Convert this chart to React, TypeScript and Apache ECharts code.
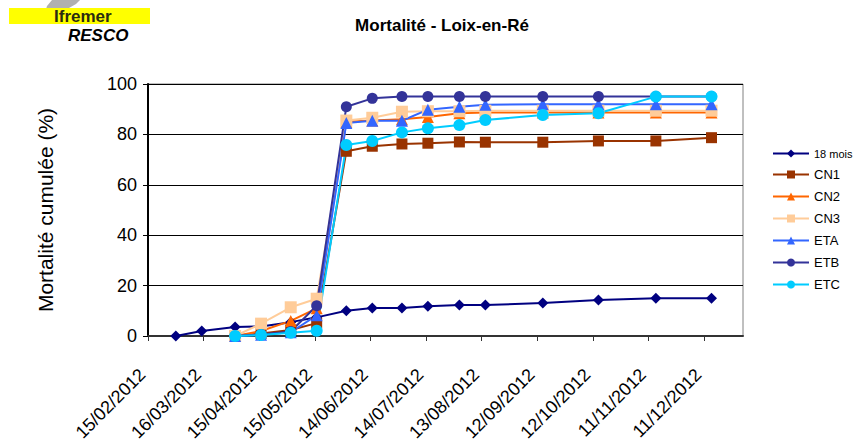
import React, { useEffect, useRef } from "react";
import * as echarts from "echarts";

// ---- data ----
const sampleDates = [
  "2012-03-01", "2012-03-15", "2012-04-02", "2012-04-16", "2012-05-02", "2012-05-16",
  "2012-06-01", "2012-06-15", "2012-07-01", "2012-07-15", "2012-08-01", "2012-08-15",
  "2012-09-15", "2012-10-15", "2012-11-15", "2012-12-15",
];
const seriesNames = ["18 mois", "CN1", "CN2", "CN3", "ETA", "ETB", "ETC"];
const v18mois = [0, 2, 3.6, 3.8, 5.5, 7.4, 10, 11.1, 11.1, 11.8, 12.3, 12.3, 13.1, 14.3, 15, 15];
const vCN1 = [null, null, 0, 1, 2.4, 5.1, 73.3, 75.3, 76.2, 76.5, 77, 76.9, 76.9, 77.4, 77.4, 78.7];
const vCN2 = [null, null, 0, 2, 6, 11, 85, 85.5, 86, 86.9, 88.4, 88.7, 88.7, 88.7, 88.7, 88.7];
const vCN3 = [null, null, 0, 4.9, 11.4, 14.8, 85.5, 86.6, 89, 89.2, 89.2, 89.4, 89.4, 89.4, 89.4, 89.4];
const vETA = [null, null, 0, 0.5, 1.5, 8.2, 84.5, 85.4, 85.4, 89.8, 91, 91.8, 92, 92, 92, 92];
const vETB = [null, null, 0, 0.6, 1.8, 12, 91, 94.3, 95, 95, 95, 95, 95, 95, 95, 95];
const vETC = [null, null, 0, 0.4, 1.3, 2.1, 75.8, 77.4, 80.8, 82.4, 83.7, 85.7, 87.7, 88.4, 95, 95];
const seriesValues = [v18mois, vCN1, vCN2, vCN3, vETA, vETB, vETC];
const seriesColors = ["#000080", "#993300", "#FF6600", "#FFCC99", "#3366FF", "#333399", "#00CCFF"];
const seriesSymbols = ["diamond", "rect", "triangle", "rect", "triangle", "circle", "circle"];
const seriesSymbolSizes = [11, 11, 12, 12, 12, 11, 12];
const axisStartDate = "2012-02-15";
const axisEndDate = "2013-01-01";
const tickDays = 30;
const yTicks = [0, 20, 40, 60, 80, 100];

const FONT = "'Liberation Sans', Arial, Helvetica, sans-serif";
const DAY = 86400000;
const t0 = Date.parse(axisStartDate + "T00:00:00Z");
const dayOf = (s: string) => Math.round((Date.parse(s + "T00:00:00Z") - t0) / DAY);
const pad = (n: number) => (n < 10 ? "0" + n : "" + n);
const fmtDay = (v: number) => {
  const d = new Date(t0 + v * DAY);
  return pad(d.getUTCDate()) + "/" + pad(d.getUTCMonth() + 1) + "/" + d.getUTCFullYear();
};

export default function App() {
  const ref = useRef<HTMLDivElement>(null);
  useEffect(() => {
    if (!ref.current) return;
    const chart = echarts.init(ref.current, undefined, { renderer: "svg" });
    const xMax = dayOf(axisEndDate);
    const series = seriesNames.map((name, i) => ({
      name,
      type: "line",
      data: sampleDates
        .map((d, j) => [dayOf(d), seriesValues[i][j]])
        .filter((p) => p[1] !== null),
      symbol: seriesSymbols[i],
      symbolSize: seriesSymbolSizes[i],
      itemStyle: { color: seriesColors[i] },
      lineStyle: { color: seriesColors[i], width: 2 },
      emphasis: { disabled: true },
    }));
    chart.setOption({
      animation: false,
      backgroundColor: "#ffffff",
      textStyle: { fontFamily: FONT },
      title: {
        text: "Mortalité - Loix-en-Ré",
        left: 437,
        top: 12,
        textAlign: "center",
        textStyle: { fontFamily: FONT, fontSize: 17, fontWeight: "bold", color: "#000" },
      },
      legend: {
        orient: "vertical",
        left: 772,
        top: 148,
        padding: 0,
        itemWidth: 36,
        itemHeight: 10,
        itemGap: 9,
        data: seriesNames,
        formatter: (name: string) => (name === "18 mois" ? "{s|" + name + "}" : name),
        textStyle: {
          fontFamily: FONT,
          fontSize: 13,
          color: "#000",
          rich: { s: { fontFamily: FONT, fontSize: 11, color: "#000" } },
        },
      },
      grid: {
        left: 148,
        top: 84,
        right: 857 - 743,
        bottom: 444 - 336,
        show: true,
        borderColor: "#808080",
        borderWidth: 1,
        containLabel: false,
        outerBoundsMode: "none",
      },
      xAxis: {
        type: "value",
        min: 0,
        max: xMax,
        interval: tickDays,
        axisLine: { show: true, onZero: false, lineStyle: { color: "#333", width: 2 } },
        axisTick: { show: true, inside: false, length: 5, lineStyle: { color: "#333" } },
        splitLine: { show: false },
        axisLabel: {
          rotate: 45,
          margin: 30,
          padding: [0, 8, 0, 0],
          fontFamily: FONT,
          fontSize: 18,
          color: "#000",
          showMaxLabel: false,
          formatter: (v: number) => (v % tickDays === 0 ? fmtDay(v) : ""),
        },
      },
      yAxis: {
        type: "value",
        min: yTicks[0],
        max: yTicks[yTicks.length - 1],
        interval: 20,
        name: "Mortalité cumulée (%)",
        nameLocation: "middle",
        nameGap: 92,
        nameTextStyle: { fontFamily: FONT, fontSize: 21, color: "#000" },
        axisLine: { show: true, lineStyle: { color: "#000", width: 2 } },
        axisTick: { show: true, inside: false, length: 5, lineStyle: { color: "#000" } },
        splitLine: { show: true, lineStyle: { color: "#000", width: 1 } },
        axisLabel: { margin: 11, fontFamily: FONT, fontSize: 18, color: "#000" },
      },
      graphic: [
        {
          type: "polygon",
          shape: { points: [[43, 18], [47, 6], [52, 0], [80, 0], [76, 4], [69, 8], [61, 10], [57, 18]] },
          style: { fill: "#B0B0B0" },
        },
        { type: "rect", shape: { x: 9, y: 8, width: 141, height: 16 }, style: { fill: "#FFFF00" } },
        {
          type: "text",
          x: 54,
          y: 25,
          style: {
            text: "Ifremer",
            font: "bold 17px " + FONT,
            fill: "#2b2b10",
            textVerticalAlign: "bottom",
          },
        },
        {
          type: "text",
          x: 68,
          y: 44,
          style: {
            text: "RESCO",
            font: "italic bold 17px " + FONT,
            fill: "#000",
            textVerticalAlign: "bottom",
          },
        },
      ],
      series,
    });
    return () => chart.dispose();
  }, []);
  return (
    <div
      ref={ref}
      style={{ position: "fixed", left: 0, top: 0, width: 857, height: 444, background: "#fff" }}
    />
  );
}
